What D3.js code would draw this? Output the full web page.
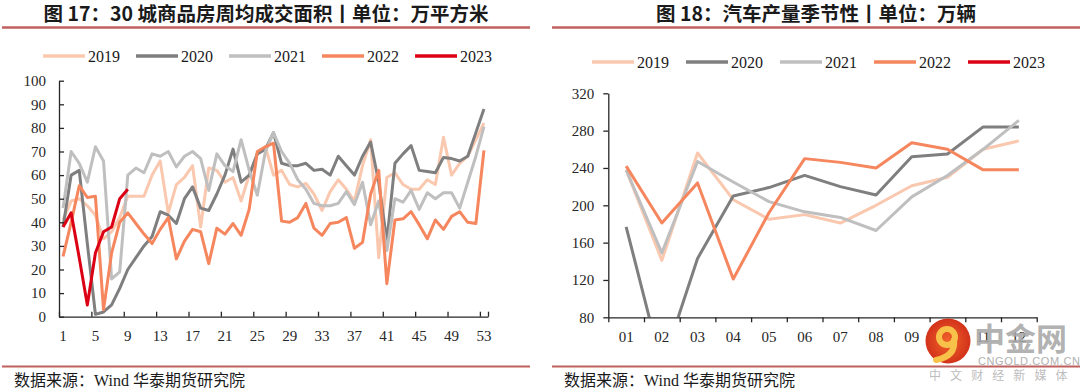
<!DOCTYPE html>
<html>
<head>
<meta charset="utf-8">
<script src="https://cdn.jsdelivr.net/npm/d3@7"></script>
<style>
    body { margin: 0; background: #fff; }
    svg { display: block; }
    .axis text { font-family: "Liberation Serif", "Times New Roman", serif; font-size: 15px; fill: #262626; }
    .axis path, .axis line { stroke: #262626; stroke-width: 1.3; }
    .title { font-family: "Noto Sans CJK SC", sans-serif; font-weight: 700; font-size: 19.5px; fill: #1a1a1a; }
    .legend text { font-family: "Liberation Serif", serif; font-size: 16px; fill: #1a1a1a; }
    .source { font-family: "Liberation Serif", "Noto Sans CJK SC", serif; font-size: 16px; fill: #1a1a1a; }
</style>
</head>
<body>
<svg id="chart" width="1080" height="390"></svg>
<script>
// ---- left: 30-city weekly transaction area (10k m2) ----
const weeks = d3.range(1, 54)
const weekLabels = [1, 5, 9, 13, 17, 21, 25, 29, 33, 37, 41, 45, 49, 53]
const areaTicks = [0, 10, 20, 30, 40, 50, 60, 70, 80, 90, 100]

const area2019 = [41, 49, 50, 47, 43, 33, 36, 42, 51, 51, 51, 60, 66, 44, 56, 59, 64, 38, 63, 62,
    57, 59, 49, 60, 69, 72, 60, 62, 56, 55, 56.5, 52, 45, 53, 58, 54, 49, 64, 75, 25,
    59, 61, 56, 54, 54, 58, 56, 76, 60, 65, 68, 75, 82]
const area2020 = [38, 60, 62, 31, 1, 2, 5, 12, 20, 25, 30, 34, 44.5, 43, 39.5, 50, 55, 46, 45, 52,
    60, 71, 57, 60, 69, 71, 78, 65, 64, 64, 65, 62, 62.5, 60, 68, 64, 60, 68, 74, 57,
    32, 65, 69, 72.5, 62, 61.5, 61, 67.5, 67, 66, 68, 78, 88]
const area2021 = [46, 70, 65, 57, 72, 66, 16, 19, 60, 63, 61, 69, 68, 70, 63.5, 68, 70, 67, 53.5, 69,
    64, 61.5, 75, 62, 51.5, 70, 78, 70, 65, 58, 54, 48, 47, 47, 48, 53, 47.5, 57, 39, 49,
    28, 50, 48.5, 53.5, 45.5, 52.5, 50, 52.5, 52.5, 46, 57, 68, 80.5]
const area2022 = [25.5, 40, 55.5, 50.5, 51, 3, 27, 40, 44, 39.5, 35, 31, 37, 42, 24.5, 32, 37, 36, 22.5, 37.5,
    35, 39.5, 34.5, 45.5, 70, 72, 73.5, 40.5, 40, 42, 48, 37.5, 34.5, 39.5, 40, 42, 29, 31.5, 52, 62,
    14, 41, 41.5, 44.5, 39, 33, 41, 37, 42.5, 44.5, 40, 39.5, 70.5]
const area2023 = [38, 44, 25, 5, 27, 36, 38, 50, 54]

// ---- right: car production seasonality (10k units) ----
const months = ["01", "02", "03", "04", "05", "06", "07", "08", "09", "10", "11", "12"]
const carTicks = [80, 120, 160, 200, 240, 280, 320]

const car2019 = [238, 141, 256, 206, 185, 190, 181, 200, 221, 230, 260, 269]
const car2020 = [177, 27, 143, 210, 219, 232, 220, 211, 252, 255, 284, 284]
const car2021 = [238, 149, 247, 225, 204, 193, 187, 173, 209, 232, 260, 291]
const car2022 = [242, 181, 224, 121, 192, 250, 246, 240, 267, 260, 238, 238]
const car2023 = []

const years = ["2019", "2020", "2021", "2022", "2023"]
const colors = ["#F9C8AF", "#7F7F7F", "#BFBFBF", "#F5865E", "#DC0014"]

let svg = d3.select("#chart")

function legend(x0, y, step) {
    let g = svg.append("g").attr("class", "legend")
    years.forEach(function(yr, i) {
        let x = x0 + i * step
        g.append("line")
            .attr("x1", x).attr("x2", x + 42)
            .attr("y1", y).attr("y2", y)
            .attr("stroke", colors[i])
            .attr("stroke-width", 3.5)
        g.append("text")
            .text(yr)
            .attr("x", x + 45)
            .attr("y", y + 5.5)
    })
}

function header(text, cx, x1, x2) {
    svg.append("text")
        .attr("class", "title")
        .attr("x", cx)
        .attr("y", 21)
        .attr("text-anchor", "middle")
        .text(text)
    svg.append("line")
        .attr("x1", x1).attr("x2", x2)
        .attr("y1", 27.5).attr("y2", 27.5)
        .attr("stroke", "#C0605E")
        .attr("stroke-width", 2.5)
}

function footer(x, x1, x2) {
    svg.append("line")
        .attr("x1", x1).attr("x2", x2)
        .attr("y1", 366.5).attr("y2", 366.5)
        .attr("stroke", "#C0605E")
        .attr("stroke-width", 2)
    svg.append("text")
        .attr("class", "source")
        .attr("x", x)
        .attr("y", 386)
        .text("数据来源：Wind 华泰期货研究院")
}

// ================= left chart =================
header("图 17：30 城商品房周均成交面积丨单位：万平方米", 266, 2, 530)
legend(43, 56, 93)

let xL = d3.scaleBand().domain(weeks).range([59, 488])
let xLb = d3.scaleLinear().domain([0, 53]).range([59, 488])
let yL = d3.scaleLinear().domain([0, 100]).range([316.7, 80.7])

let lineL = d3.line()
    .x(d => xL(d.w) + xL.bandwidth() / 2)
    .y(d => yL(d.v))

let areaSeries = [area2019, area2020, area2021, area2022, area2023]
areaSeries.forEach(function(vals, i) {
    svg.append("path")
        .datum(vals.map((v, j) => ({w: weeks[j], v: v})))
        .attr("d", lineL)
        .attr("fill", "none")
        .attr("stroke", colors[i])
        .attr("stroke-width", 3)
        .attr("stroke-linejoin", "round")
})

svg.append("g")
    .attr("class", "axis")
    .attr("transform", "translate(0,316.7)")
    .call(d3.axisBottom(xLb).tickValues(d3.range(0, 53, 4).concat([53])).tickSize(-5).tickSizeOuter(0).tickFormat(""))

svg.append("g")
    .attr("class", "axis")
    .attr("transform", "translate(0,316.7)")
    .call(d3.axisBottom(xL).tickValues(weekLabels).tickSize(0).tickPadding(14))
    .call(g => g.select(".domain").remove())

svg.append("g")
    .attr("class", "axis")
    .attr("transform", "translate(59,0)")
    .call(d3.axisLeft(yL).tickValues(areaTicks).tickSize(-5).tickSizeOuter(0).tickPadding(13))

footer(14, 2, 530)

// ================= right chart =================
header("图 18：汽车产量季节性丨单位：万辆", 816, 552, 1080)
legend(592, 62, 94)

let xR = d3.scaleBand().domain(months).range([608.3, 1036.7])
let xRb = d3.scaleLinear().domain([0, 12]).range([608.3, 1036.7])
let yR = d3.scaleLinear().domain([80, 320]).range([317.3, 93.3])

svg.append("clipPath")
    .attr("id", "clipR")
    .append("rect")
    .attr("x", 608.3).attr("y", 90)
    .attr("width", 428.4).attr("height", 227.3)

let lineR = d3.line()
    .x(d => xR(d.m) + xR.bandwidth() / 2)
    .y(d => yR(d.v))

let carSeries = [car2019, car2020, car2021, car2022, car2023]
carSeries.forEach(function(vals, i) {
    if (vals.length == 0) return
    svg.append("path")
        .datum(vals.map((v, j) => ({m: months[j], v: v})))
        .attr("d", lineR)
        .attr("clip-path", "url(#clipR)")
        .attr("fill", "none")
        .attr("stroke", colors[i])
        .attr("stroke-width", 3)
        .attr("stroke-linejoin", "round")
})

svg.append("g")
    .attr("class", "axis")
    .attr("transform", "translate(0,317.3)")
    .call(d3.axisBottom(xRb).tickValues(d3.range(0, 13)).tickSize(5).tickSizeOuter(0).tickFormat(""))

svg.append("g")
    .attr("class", "axis")
    .attr("transform", "translate(0,317.3)")
    .call(d3.axisBottom(xR).tickSize(0).tickPadding(14))
    .call(g => g.select(".domain").remove())

svg.append("g")
    .attr("class", "axis")
    .attr("transform", "translate(608.3,0)")
    .call(d3.axisLeft(yR).tickValues(carTicks).tickSize(5).tickSizeOuter(0).tickPadding(9))

footer(564, 552, 1080)

// watermark in the corner (sits over the last month labels, as in the source image)
let wm = svg.append("g").attr("id", "watermark")
let grad = svg.append("defs").append("radialGradient").attr("id", "logoGrad")
grad.append("stop").attr("offset", "0%").attr("stop-color", "#F0632A")
grad.append("stop").attr("offset", "100%").attr("stop-color", "#D2321A")
wm.append("circle").attr("cx", 948).attr("cy", 341).attr("r", 22.5).attr("fill", "url(#logoGrad)")
wm.append("circle").attr("cx", 947).attr("cy", 337).attr("r", 8).attr("fill", "none")
    .attr("stroke", "#F8C24A").attr("stroke-width", 6)
wm.append("path").attr("d", "M954,340 Q956,356 936,360").attr("fill", "none")
    .attr("stroke", "#F8C24A").attr("stroke-width", 6).attr("stroke-linecap", "round")
wm.append("text").text("中金网")
    .attr("x", 974).attr("y", 350)
    .attr("font-family", "Noto Sans CJK SC").attr("font-weight", 700).attr("font-size", 31)
    .attr("fill", "#A8A8A8").attr("fill-opacity", 0.9)
wm.append("text").text("CNGOLD.COM.CN")
    .attr("x", 978).attr("y", 365)
    .attr("font-family", "Liberation Sans").attr("font-size", 11)
    .attr("fill", "#B0B0B0").attr("letter-spacing", 0.6)
wm.append("text").text("中 文 财 经 新 媒 体")
    .attr("x", 929).attr("y", 380)
    .attr("font-family", "Noto Sans CJK SC").attr("font-size", 12)
    .attr("fill", "#BDBDBD").attr("letter-spacing", 3.2)
</script>
</body>
</html>
